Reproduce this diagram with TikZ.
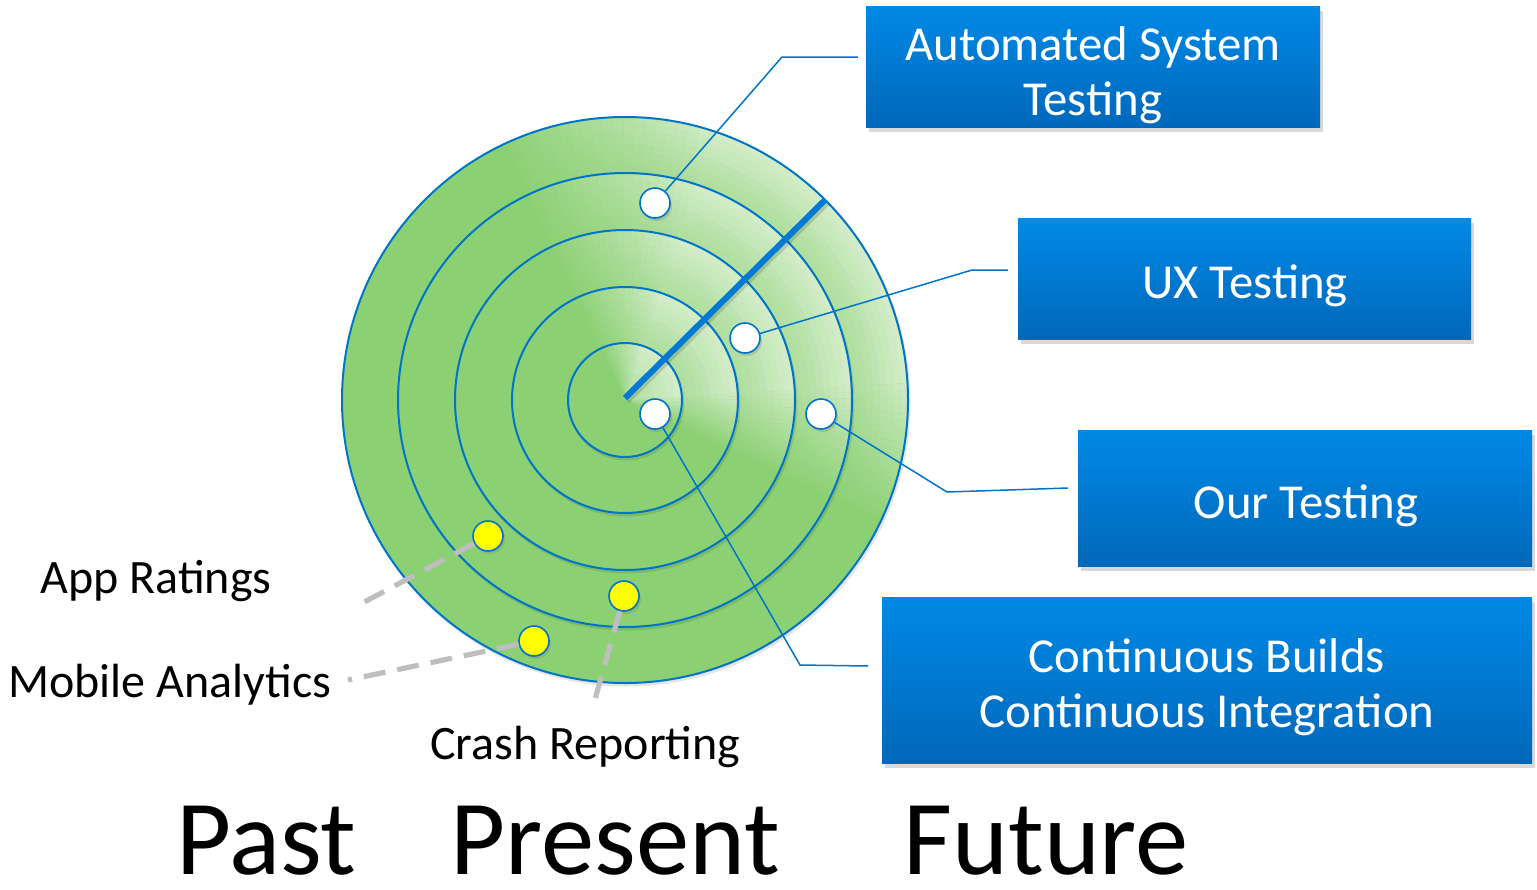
\documentclass[tikz,border=0pt]{standalone}
\usepackage{fontspec}
\setmainfont{Carlito}
\usetikzlibrary{calc,shadows}
\definecolor{radargreen}{RGB}{140,208,116}
\definecolor{ringblue}{RGB}{0,116,200}
\definecolor{sweepblue}{RGB}{0,122,212}
\definecolor{boxtop}{RGB}{0,137,230}
\definecolor{boxbot}{RGB}{0,104,186}
\definecolor{dashgray}{RGB}{190,190,190}
\definecolor{dotyellow}{RGB}{255,255,0}
\begin{document}
\begin{tikzpicture}[x=0.5pt,y=-0.5pt,
  ring/.style={draw=ringblue,line width=1pt},
  sweepline/.style={draw=sweepblue,line width=3pt},
  whitedot/.style={circle,draw=ringblue,line width=0.8pt,fill=white,
    minimum size=15pt,inner sep=0pt,
    drop shadow={shadow xshift=1pt,shadow yshift=-1.5pt,opacity=0.3}},
  yellowdot/.style={whitedot,fill=dotyellow},
  infobox/.style={rectangle,draw=none,inner sep=0pt,
    top color=boxtop,bottom color=boxbot,
    drop shadow={shadow xshift=1.5pt,shadow yshift=-2.5pt,opacity=0.3}},
  boxtext/.style={text=white,font=\fontsize{24.4}{27.5}\selectfont,
    align=center,inner sep=0pt},
  sidetext/.style={text=black,font=\fontsize{24}{28}\selectfont,
    inner sep=0pt,anchor=base west},
  eratext/.style={text=black,font=\fontsize{53.3}{60}\selectfont,
    inner sep=0pt,anchor=base west},
  link/.style={draw=ringblue,line width=0.75pt},
  dashlink/.style={draw=dashgray,line width=2.6pt,dash pattern=on 11pt off 6pt}]
\useasboundingbox (0,0) rectangle (1537,889);

% radar: stacked discs, each lightened towards its rim around the sweep
\coordinate (c) at (625,400);
\begin{scope}[shift={(c)},yscale=-1]
  \foreach \R/\Rin in {283/227,227/170,170/113,113/57,57/0}{
    \fill[black,opacity=0.10] (1.5,-2.5) circle[radius=\R+1];
    \fill[radargreen] (0,0) circle[radius=\R];
    \foreach \i in {1,...,20}{
      \pgfmathsetmacro{\ta}{-25+30*(\i-1)/20}
      \pgfmathsetmacro{\tb}{115-45*(\i-1)/20}
      \foreach \j in {0,...,7}{
        \pgfmathsetmacro{\ri}{\Rin+(\R-\Rin)*\j/8+0.5}
        \pgfmathtruncatemacro{\w}{round(60*(\i/20)*(0.45+0.55*(\j+1)/8))}
        \fill[white!\w!radargreen]
          (\ta:\R) arc[start angle=\ta,end angle=\tb,radius=\R]
          -- (\tb:\ri) arc[start angle=\tb,end angle=\ta,radius=\ri] -- cycle;
      }
    }
    \draw[ring] (0,0) circle[radius=\R];
  }
\end{scope}

% sweep
\coordinate (sweepstart) at (625,398);
\coordinate (sweepend) at (825,200);
\draw[draw=black,opacity=0.15,line width=3pt] ($(sweepstart)+(2,3)$) -- ($(sweepend)+(2,3)$);
\draw[sweepline] (sweepstart) -- (sweepend);

% blips
\node[whitedot] (d1) at (655,203) {};
\node[whitedot] (d2) at (745,338) {};
\node[whitedot] (d3) at (821,414) {};
\node[whitedot] (d4) at (655,414) {};
\node[yellowdot] (y1) at (488,536) {};
\node[yellowdot] (y2) at (624,596) {};
\node[yellowdot] (y3) at (534,641) {};

% boxes
\node[infobox,minimum width=227pt,minimum height=60.5pt] (b1) at (1093,66.5) {};
\node[infobox,minimum width=226.5pt,minimum height=60.5pt] (b2) at (1244.5,278.5) {};
\node[infobox,minimum width=227pt,minimum height=68pt] (b3) at (1305,498) {};
\node[infobox,minimum width=325pt,minimum height=83pt] (b4) at (1207,680) {};
\node[boxtext] (t1) at (1093,75.5) {Automated System\\Testing};
\node[boxtext,anchor=base] (t2) at (1245,298) {UX Testing};
\node[boxtext,anchor=base] (t3) at (1306,518) {Our Testing};
\node[boxtext] (t4) at (1207,687) {Continuous Builds\\Continuous Integration};

% leaders to the boxes
\coordinate (k1) at (782,57);  \coordinate (e1) at (858,57);
\coordinate (k2) at (972,270); \coordinate (e2) at (1008,270);
\coordinate (k3) at (947,492); \coordinate (e3) at (1068,488);
\coordinate (k4) at (800,665); \coordinate (e4) at (868,666);
\draw[link] (d1) -- (k1) -- (e1);
\draw[link] (d2) -- (k2) -- (e2);
\draw[link] (d3) -- (k3) -- (e3);
\draw[link] (d4) -- (k4) -- (e4);

% side labels
\node[sidetext] (l1) at (40,593) {App Ratings};
\node[sidetext] (l2) at (8,697) {Mobile Analytics};
\node[sidetext] (l3) at (430,759) {Crash Reporting};
\coordinate (f1) at (355,607);
\coordinate (f2) at (348,680);
\coordinate (f3) at (594,703);
\draw[dashlink] (y1) -- (f1);
\draw[dashlink] (y3) -- (f2);
\draw[dashlink] (y2) -- (f3);

% time axis
\node[eratext] (past) at (176,874) {Past};
\node[eratext] (present) at (450,874) {Present};
\node[eratext] (future) at (903,874) {Future};
\end{tikzpicture}
\end{document}
